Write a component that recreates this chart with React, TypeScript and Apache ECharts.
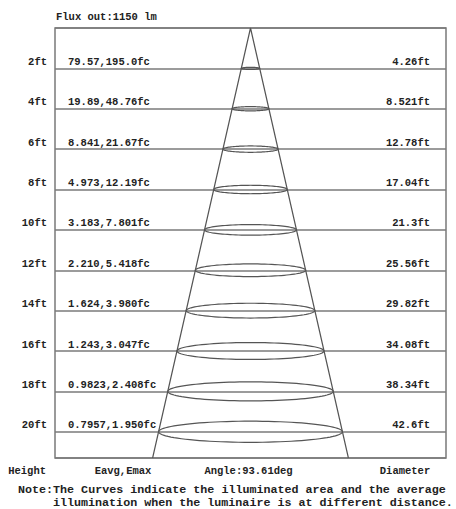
import React, { useEffect, useRef } from "react";
import * as echarts from "echarts";

const heights = [2, 4, 6, 8, 10, 12, 14, 16, 18, 20];
const eavg = ["79.57", "19.89", "8.841", "4.973", "3.183", "2.210", "1.624", "1.243", "0.9823", "0.7957"];
const emax = ["195.0", "48.76", "21.67", "12.19", "7.801", "5.418", "3.980", "3.047", "2.408", "1.950"];
const diameters = [4.26, 8.521, 12.78, 17.04, 21.3, 25.56, 29.82, 34.08, 38.34, 42.6];
const fluxOut = 1150;
const beamAngle = 93.61;
const yMax = 21.3;
const xMax = 45.3;

const FONT = "bold 10.5px 'Liberation Mono', 'DejaVu Sans Mono', monospace";
const NOTE_FONT = "bold 11.7px 'Liberation Mono', 'DejaVu Sans Mono', monospace";
const TXT = "#222";
const LINE = "#7a7a7a";

export default function App() {
  const ref = useRef<HTMLDivElement>(null);
  useEffect(() => {
    if (!ref.current) return;
    const chart = echarts.init(ref.current, undefined, { renderer: "svg" });
    const r = yMax * Math.tan((beamAngle / 2) * Math.PI / 180);
    chart.setOption({
      animation: false,
      backgroundColor: "#fff",
      grid: {
        left: 55, top: 28, width: 391, height: 430,
        show: true, borderColor: LINE, borderWidth: 1.5, backgroundColor: "transparent",
      },
      xAxis: {
        type: "value", min: -xMax, max: xMax, show: false,
      },
      yAxis: {
        type: "value", inverse: true, min: 0, max: yMax, interval: 2,
        axisLine: { show: false }, axisTick: { show: false },
        splitLine: { show: true, lineStyle: { color: LINE, width: 1.5 } },
        axisLabel: {
          show: true, showMinLabel: false, showMaxLabel: false,
          formatter: (v: number) => (v > 0 && v <= 20 ? v + "ft" : ""),
          margin: 8, verticalAlign: "bottom", padding: [0, 0, 1, 0],
          fontFamily: "'Liberation Mono', monospace", fontWeight: "bold", fontSize: 10.5, color: TXT,
        },
      },
      series: [
        {
          type: "line",
          data: [[-r, yMax], [0, 0], [r, yMax]],
          symbol: "none",
          lineStyle: { color: "#555", width: 1.2 },
          silent: true,
          z: 3,
        },
        {
          type: "custom",
          data: heights.map((h, i) => [h, diameters[i], i]),
          z: 4,
          renderItem: (params: any, api: any) => {
            const h = api.value(0);
            const d = api.value(1);
            const idx = api.value(2);
            const c = api.coord([0, h]);
            const e = api.coord([d / 2, h]);
            const rx = e[0] - c[0];
            const ry = rx * 0.115;
            const pts: number[][] = [];
            for (let k = 0; k < 96; k++) {
              const t = (k / 96) * Math.PI * 2;
              pts.push([c[0] + rx * Math.cos(t), c[1] + ry * Math.sin(t)]);
            }
            const left = api.coord([-xMax, h]);
            const right = api.coord([xMax, h]);
            return {
              type: "group",
              children: [
                {
                  type: "polygon",
                  shape: { points: pts },
                  style: { fill: "none", stroke: "#555", lineWidth: 1.2 },
                },
                {
                  type: "text",
                  x: left[0] + 13,
                  y: c[1] - 1,
                  style: {
                    text: eavg[idx] + "," + emax[idx] + "fc",
                    font: FONT, fill: TXT, align: "left", verticalAlign: "bottom",
                  },
                },
                {
                  type: "text",
                  x: right[0] - 16,
                  y: c[1] - 1,
                  style: {
                    text: diameters[idx] + "ft",
                    font: FONT, fill: TXT, align: "right", verticalAlign: "bottom",
                  },
                },
              ],
            };
          },
        },
      ],
      graphic: [
        { type: "text", x: 56, y: 17, style: { text: "Flux out:" + fluxOut + " lm", font: FONT, fill: TXT, align: "left", verticalAlign: "middle" } },
        { type: "text", x: 46, y: 470.5, style: { text: "Height", font: FONT, fill: TXT, align: "right", verticalAlign: "middle" } },
        { type: "text", x: 123, y: 470.5, style: { text: "Eavg,Emax", font: FONT, fill: TXT, align: "center", verticalAlign: "middle" } },
        { type: "text", x: 248.5, y: 470.5, style: { text: "Angle:" + beamAngle + "deg", font: FONT, fill: TXT, align: "center", verticalAlign: "middle" } },
        { type: "text", x: 405, y: 470.5, style: { text: "Diameter", font: FONT, fill: TXT, align: "center", verticalAlign: "middle" } },
        { type: "text", x: 18, y: 489.5, style: { text: "Note:The Curves indicate the illuminated area and the average", font: NOTE_FONT, fill: TXT, align: "left", verticalAlign: "middle" } },
        { type: "text", x: 53, y: 502.5, style: { text: "illumination when the luminaire is at different distance.", font: NOTE_FONT, fill: TXT, align: "left", verticalAlign: "middle" } },
      ],
    });
    return () => chart.dispose();
  }, []);
  return <div ref={ref} style={{ position: "fixed", left: 0, top: 0, width: 456, height: 509 }} />;
}
